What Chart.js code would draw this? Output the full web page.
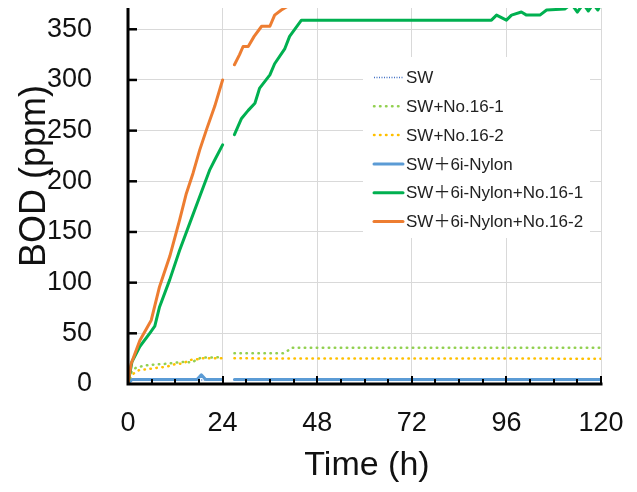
<!DOCTYPE html>
<html><head><meta charset="utf-8">
<script src="https://cdn.jsdelivr.net/npm/chart.js@4.4.0/dist/chart.umd.min.js"></script>
<style>html,body{margin:0;padding:0;background:#fff;}#wrap{width:637px;height:492px;}</style>
</head><body><div id="wrap"><canvas id="c" width="637" height="492"></canvas></div>
<script>
// ---- data ----
const seriesLabels = ['SW', 'SW+No.16-1', 'SW+No.16-2', 'SW\uFF0B6i-Nylon', 'SW\uFF0B6i-Nylon+No.16-1', 'SW\uFF0B6i-Nylon+No.16-2'];
const xTickValues = [0, 24, 48, 72, 96, 120];
const yTickValues = [0, 50, 100, 150, 200, 250, 300, 350];
const xTitle = 'Time (h)';
const yTitle = 'BOD (ppm)';

const tSW = [0, 1, 24, 25, 27, 120];
const vSW = [0, 4, 4, null, 4, 4];

const tNo161 = [0, 1, 2, 4, 6, 7.6, 10, 12, 14.8, 16, 17.5, 18.5, 24, 25, 27, 39.3, 40.6, 41.5, 120];
const vNo161 = [0, 13, 16, 18, 19, 19.4, 20, 21, 22, 21, 24, 26, 26.5, null, 30.3, 30.3, 33, 35.8, 35.8];

const tNo162 = [0, 1, 2, 3, 5, 6.3, 9.7, 11.8, 14, 15.7, 17.8, 18.5, 24, 25, 27, 120];
const vNo162 = [0, 9, 12, 14, 14.5, 15.5, 17, 19.4, 20.4, 23.7, 24.4, 25.3, 25.3, null, 25.3, 25];

const tNylon = [0, 1, 17.5, 18.6, 19.7, 24, 25, 27, 120];
const vNylon = [0, 4.5, 4.5, 9, 4.5, 4.5, null, 4.5, 4.5];

const tNylon161 = [0, 1, 3, 5.5, 6.8, 8, 10.6, 13.1, 15.7, 18.2, 20.7, 22, 24, 25, 27, 28.8, 30.5, 32.2, 33.4, 36, 37.2, 39.8, 41, 44, 92.2, 93.5, 96, 97.3, 99.8, 101.1, 104.5, 106.2, 110.8, 112.5, 114, 115.5, 116.8, 118, 119.2, 120];
const vNylon161 = [0, 22, 37, 50, 57, 76, 103, 132, 159, 185, 211, 221, 236, null, 246, 262, 270, 277, 292, 305, 316, 331, 343, 359, 359, 364, 359, 364, 367, 364, 364, 369, 370, 375, 367, 375, 368, 375, 369, 375];

const tNylon162 = [0, 0.8, 3, 5.9, 8, 10.6, 13.1, 14.8, 16.5, 18.2, 20, 22, 24, 25, 27, 28.3, 29.2, 30.5, 32, 33.9, 36, 37.2, 38.9, 40.2, 41.5];
const vNylon162 = [0, 20, 43, 63, 96, 126, 162, 188, 208, 231, 252, 274, 300, null, 315, 325, 333, 333, 343, 353, 353, 364, 369, 372, 380];

// ---- styles ----
const FONT = "'Liberation Sans', Arial, 'Noto Sans CJK JP', sans-serif";
const colors = ['#4472C4', '#92D050', '#FFC000', '#5B9BD5', '#00B050', '#ED7D31'];
const widths = [1.5, 2.5, 2.5, 3, 3, 3];
const dashes = [[1, 1.5], [0.5, 5.5], [0.5, 5.5], [], [], []];
const caps = ['butt', 'round', 'round', 'round', 'round', 'round'];

const times = [tSW, tNo161, tNo162, tNylon, tNylon161, tNylon162];
const values = [vSW, vNo161, vNo162, vNylon, vNylon161, vNylon162];

const datasets = seriesLabels.map((lab, i) => ({
  label: lab,
  data: times[i].map((t, j) => ({x: t, y: values[i][j]})),
  borderColor: colors[i],
  backgroundColor: colors[i],
  borderWidth: widths[i],
  borderDash: dashes[i],
  borderCapStyle: caps[i],
  borderJoinStyle: 'round',
  pointRadius: 0,
  tension: 0,
  spanGaps: false,
  fill: false,
  order: seriesLabels.length - i
}));

function noPad(s) { s.paddingTop = 0; s.paddingBottom = 0; s.paddingLeft = 0; s.paddingRight = 0; }

const decor = {
  id: 'decor',
  afterDatasetsDraw(chart) {
    const ctx = chart.ctx;
    const ca = chart.chartArea;
    const xs = chart.scales.x, ys = chart.scales.y;
    ctx.save();
    // axis lines
    ctx.strokeStyle = '#000';
    ctx.lineWidth = 3;
    ctx.beginPath();
    ctx.moveTo(ca.left, ca.top);
    ctx.lineTo(ca.left, ca.bottom + 1.5);
    ctx.moveTo(ca.left - 1.5, ca.bottom);
    ctx.lineTo(ca.right + 1.5, ca.bottom);
    ctx.stroke();
    // x ticks (inside)
    ctx.lineWidth = 2;
    for (let t = 6; t <= 120; t += 6) {
      const px = Math.round(xs.getPixelForValue(t));
      const len = (t % 24 === 0) ? 8 : 5;
      ctx.beginPath();
      ctx.moveTo(px, ca.bottom);
      ctx.lineTo(px, ca.bottom - len);
      ctx.stroke();
    }
    // y ticks (inside)
    ctx.lineWidth = 2.5;
    yTickValues.forEach(v => {
      if (v === 0) return;
      const py = ys.getPixelForValue(v);
      ctx.beginPath();
      ctx.moveTo(ca.left, py);
      ctx.lineTo(ca.left + 9, py);
      ctx.stroke();
    });
    // legend
    const lx = 363, ly = 57, lw = 227, lh = 181;
    ctx.fillStyle = '#fff';
    ctx.fillRect(lx, ly, lw, lh);
    ctx.font = '17px ' + FONT;
    ctx.textBaseline = 'middle';
    ctx.textAlign = 'left';
    seriesLabels.forEach((lab, i) => {
      const y = 77.5 + i * 28.8;
      ctx.strokeStyle = colors[i];
      ctx.lineWidth = widths[i];
      ctx.setLineDash(dashes[i]);
      ctx.lineCap = caps[i];
      ctx.beginPath();
      ctx.moveTo(374, y);
      ctx.lineTo(403, y);
      ctx.stroke();
      ctx.setLineDash([]);
      ctx.lineCap = 'butt';
      ctx.fillStyle = '#222';
      ctx.fillText(lab, 406, y + 1);
    });
    // axis titles
    ctx.fillStyle = '#111';
    ctx.font = '34px ' + FONT;
    ctx.textAlign = 'center';
    ctx.textBaseline = 'middle';
    ctx.fillText(xTitle, 367, 466);
    ctx.translate(35, 176);
    ctx.rotate(-Math.PI / 2);
    ctx.font = '36px ' + FONT;
    ctx.fillText(yTitle, 0, 0);
    ctx.restore();
  }
};

new Chart(document.getElementById('c'), {
  type: 'line',
  data: {datasets},
  options: {
    responsive: false,
    devicePixelRatio: 1,
    animation: false,
    layout: {padding: {left: 0, top: 8, right: 36, bottom: 0}},
    plugins: {legend: {display: false}, tooltip: {enabled: false}},
    scales: {
      x: {
        type: 'linear', min: 0, max: 120,
        afterFit: s => { s.height = 108; noPad(s); },
        afterBuildTicks: s => { s.ticks = xTickValues.map(v => ({value: v})); },
        ticks: {stepSize: 24, color: '#111', font: {size: 27, family: FONT}, padding: 23, maxRotation: 0, autoSkip: false},
        grid: {color: '#D9D9D9', lineWidth: 1, drawTicks: false},
        border: {display: false}
      },
      y: {
        type: 'linear', min: 0, max: 371,
        afterFit: s => { s.width = 128; noPad(s); },
        afterBuildTicks: s => { s.ticks = yTickValues.map(v => ({value: v})); },
        ticks: {stepSize: 50, color: '#111', font: {size: 27, family: FONT}, padding: 36},
        grid: {color: '#D9D9D9', lineWidth: 1, drawTicks: false},
        border: {display: false}
      }
    }
  },
  plugins: [decor]
});
</script>
</body></html>
